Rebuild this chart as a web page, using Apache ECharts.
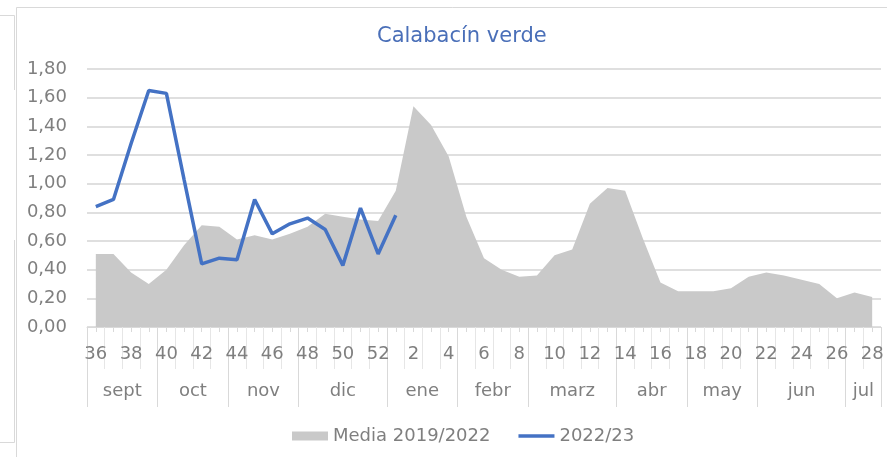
<!DOCTYPE html>
<html>
<head>
<meta charset="utf-8">
<script src="https://cdn.jsdelivr.net/npm/echarts@6/dist/echarts.min.js"></script>
<style>
  html, body { margin: 0; padding: 0; background: #fff; }
  #chart { width: 887px; height: 457px; }
</style>
</head>
<body>
<div id="chart"></div>
<script>
// semanas de la campaña (sept -> jul)
var weeks = ['36','37','38','39','40','41','42','43','44','45','46','47','48','49','50','51','52',
             '1','2','3','4','5','6','7','8','9','10','11','12','13','14','15','16','17','18','19','20',
             '21','22','23','24','25','26','27','28'];

// meses y nº de semanas de cada uno
var monthNames = ['sept','oct','nov','dic','ene','febr','marz','abr','may','jun','jul'];
var monthWeeks = [4, 4, 4, 5, 4, 4, 5, 4, 4, 5, 2];

// precios (€/kg)
var media = [0.51,0.51,0.38,0.30,0.40,0.57,0.71,0.70,0.61,0.64,0.61,0.65,0.70,0.79,0.77,0.75,0.74,
             0.95,1.54,1.41,1.19,0.77,0.48,0.40,0.35,0.36,0.50,0.54,0.86,0.97,0.95,0.62,0.31,0.25,
             0.25,0.25,0.27,0.35,0.38,0.36,0.33,0.30,0.20,0.24,0.21];
var campana = [0.84,0.89,1.28,1.65,1.63,1.03,0.44,0.48,0.47,0.89,0.65,0.72,0.76,0.68,0.43,0.83,0.51,0.78];

var yTicks = [0, 1.8, 0.2]; // min, max, intervalo

// limites y centros de los meses sobre el eje
var monthBounds = [0], monthCenters = [], centerName = {};
monthWeeks.forEach(function (n, i) {
    var start = monthBounds[monthBounds.length - 1];
    monthBounds.push(start + n);
    var c = start + n / 2;
    monthCenters.push(c);
    centerName[c] = monthNames[i];
});
// marcas cortas en el centro de cada semana
var weekCenters = weeks.map(function (w, i) { return i + 0.5; });

var font = 'DejaVu Sans';
var grey = '#7f7f7f';
var frame = '#d9d9d9';

var chart = echarts.init(document.getElementById('chart'));

var option = {
    backgroundColor: '#fff',
    title: {
        text: 'Calabacín verde',
        left: 372,
        top: 21,
        textStyle: { color: '#4a6fb8', fontSize: 21, fontWeight: 'normal', fontFamily: font }
    },
    legend: {
        left: 287,
        top: 422,
        itemGap: 28,
        itemWidth: 36,
        itemHeight: 9,
        textStyle: { color: grey, fontSize: 18, fontFamily: font },
        data: [
            { name: 'Media 2019/2022', icon: 'rect' },
            { name: '2022/23', icon: 'path://M0,0 L36,0 L36,3.5 L0,3.5 Z' }
        ]
    },
    grid: { left: 87, right: 6, top: 69, bottom: 130, containLabel: false },
    xAxis: [
        {
            type: 'category',
            data: weeks,
            boundaryGap: true,
            position: 'bottom',
            axisLine: { show: true, lineStyle: { color: frame, width: 1 } },
            axisTick: { show: true, interval: 0, length: 42, lineStyle: { color: '#e6e6e6' } },
            axisLabel: { interval: 1, margin: 18, color: grey, fontSize: 18, fontFamily: font },
            splitLine: { show: false }
        },
        {
            type: 'value',
            min: 0,
            max: weeks.length,
            position: 'bottom',
            axisLine: { show: false },
            axisTick: { show: true, customValues: monthBounds, length: 80, lineStyle: { color: frame } },
            axisLabel: {
                customValues: monthCenters,
                margin: 55,
                color: grey,
                fontSize: 18,
                fontFamily: font,
                formatter: function (v) { return centerName[v] || ''; }
            },
            splitLine: { show: false }
        },
        {
            type: 'value',
            min: 0,
            max: weeks.length,
            position: 'bottom',
            axisLine: { show: false },
            axisTick: { show: true, customValues: weekCenters, length: 5, lineStyle: { color: frame } },
            axisLabel: { show: false },
            splitLine: { show: false }
        }
    ],
    yAxis: {
        type: 'value',
        min: yTicks[0],
        max: yTicks[1],
        interval: yTicks[2],
        axisLine: { show: false },
        axisTick: { show: false },
        axisLabel: {
            margin: 20,
            color: grey,
            fontSize: 18,
            fontFamily: font,
            formatter: function (v) { return v.toFixed(2).replace('.', ','); }
        },
        splitLine: { lineStyle: { color: '#d4d4d4', width: 1.5 } }
    },
    // marcos del area del grafico
    graphic: [
        { type: 'rect', shape: { x: 16.5, y: 7.5, width: 900, height: 500 }, style: { fill: null, stroke: frame, lineWidth: 1 }, silent: true },
        { type: 'polyline', shape: { points: [[0, 15.5], [14.5, 15.5], [14.5, 90]] }, style: { fill: null, stroke: frame, lineWidth: 1 }, silent: true },
        { type: 'polyline', shape: { points: [[14.5, 240], [14.5, 442.5], [0, 442.5]] }, style: { fill: null, stroke: frame, lineWidth: 1 }, silent: true }
    ],
    series: [
        {
            name: 'Media 2019/2022',
            type: 'line',
            data: media,
            symbol: 'none',
            lineStyle: { width: 0, color: '#c9c9c9' },
            itemStyle: { color: '#c9c9c9' },
            areaStyle: { color: '#c9c9c9', opacity: 1 },
            z: 1
        },
        {
            name: '2022/23',
            type: 'line',
            data: campana,
            symbol: 'none',
            lineStyle: { width: 3.5, color: '#4472c4' },
            itemStyle: { color: '#4472c4' },
            z: 3
        }
    ]
};

chart.setOption(option);
</script>
</body>
</html>
